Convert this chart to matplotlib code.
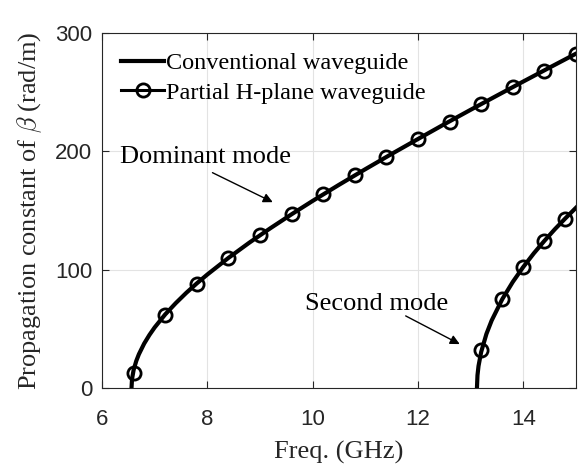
import numpy as np
import matplotlib
matplotlib.use('Agg')
import matplotlib.pyplot as plt

# conventional waveguide, dominant mode (freq GHz, beta rad/m)
conv_dom_f = [6.56, 6.57, 6.60, 6.65, 6.70, 6.80, 6.90, 7.00, 7.20, 7.40, 7.60, 7.80,
              8.00, 8.40, 8.80, 9.20, 9.60, 10.0, 10.5, 11.0, 11.5, 12.0, 12.5,
              13.0, 13.5, 14.0, 14.5, 15.0]
conv_dom_b = [0.0, 7.6, 15.2, 22.8, 28.5, 37.5, 44.8, 51.2, 62.2, 71.7, 80.4, 88.4,
              95.9, 109.9, 122.9, 135.1, 146.8, 158.1, 171.7, 184.9, 197.8, 210.4, 222.9,
              235.1, 247.1, 259.0, 270.8, 282.5]

# conventional waveguide, second mode
conv_sec_f = [13.12, 13.13, 13.15, 13.20, 13.30, 13.40, 13.60, 13.80, 14.00, 14.20,
              14.40, 14.60, 14.80, 15.00]
conv_sec_b = [0.0, 10.7, 18.6, 30.4, 45.7, 57.1, 75.0, 89.6, 102.3, 113.8,
              124.3, 134.2, 143.4, 152.3]

# partial H-plane waveguide (markers)
ph_dom_f = [6.6, 7.2, 7.8, 8.4, 9.0, 9.6, 10.2, 10.8, 11.4, 12.0, 12.6, 13.2, 13.8, 14.4, 15.0]
ph_dom_b = [13, 62, 88, 110, 129, 147, 164, 180, 195, 210, 225, 240, 254, 268, 282]
ph_sec_f = [13.2, 13.6, 14.0, 14.4, 14.8]
ph_sec_b = [32, 75, 102, 124, 143]

plt.rcParams['mathtext.fontset'] = 'cm'
serif = 'Liberation Serif'
sans = 'Liberation Sans'

fig = plt.figure(figsize=(5.88, 4.66), dpi=100)
ax = fig.add_axes([0.1735, 0.1674, 0.806, 0.7618])

mk = dict(color='k', marker='o', ms=9.5, mfc='none', mew=2.0)
ax.plot(conv_dom_f, conv_dom_b, color='k', lw=3.0, label='Conventional waveguide')
ax.plot(conv_sec_f, conv_sec_b, color='k', lw=3.0)
ax.plot(ph_dom_f, ph_dom_b, ls='none', **mk)
ax.plot(ph_sec_f, ph_sec_b, ls='none', **mk)
# legend handle for the marker series
ax.plot([], [], lw=2.2, label='Partial H-plane waveguide', **mk)

ax.set_xlim(6, 15)
ax.set_ylim(0, 300)
ax.set_xticks([6, 8, 10, 12, 14])
ax.set_yticks([0, 100, 200, 300])
ax.grid(True, color='#e3e3e3', lw=0.8)
ax.set_axisbelow(True)
ax.tick_params(direction='in', length=5, width=0.8, colors='#262626',
               top=True, right=True, labelsize=16, pad=7)
ax.tick_params(axis='x', pad=15)
for lab in ax.get_xticklabels() + ax.get_yticklabels():
    lab.set_fontfamily(sans)
for sp in ax.spines.values():
    sp.set_color('#262626')
    sp.set_linewidth(0.8)

ax.set_xlabel('Freq. (GHz)', fontsize=19, family=serif, color='#262626', labelpad=8)
ax.set_ylabel(r'Propagation constant of $\beta$ (rad/m)', fontsize=19, family=serif,
              color='#262626', labelpad=8)

leg = ax.legend(loc='upper left', frameon=False, prop={'family': serif, 'size': 17.5},
                handlelength=1.75, handletextpad=0.1, borderaxespad=0.3,
                labelspacing=0.3, borderpad=0.5)

ax.annotate('', xy=(9.29, 156), xytext=(8.05, 183),
            arrowprops=dict(arrowstyle='-|>', color='k', lw=1, mutation_scale=14))
ax.text(6.34, 195, 'Dominant mode', fontsize=19, family=serif, va='center', ha='left')
ax.annotate('', xy=(12.84, 36), xytext=(11.72, 62),
            arrowprops=dict(arrowstyle='-|>', color='k', lw=1, mutation_scale=14))
ax.text(11.21, 71, 'Second mode', fontsize=19, family=serif, va='center', ha='center')

fig.savefig('out.png', dpi=100)
